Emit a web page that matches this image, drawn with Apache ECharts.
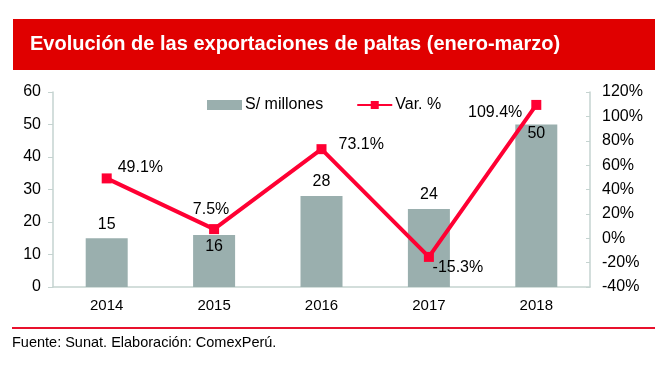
<!DOCTYPE html>
<html><head><meta charset="utf-8">
<script src="https://cdn.jsdelivr.net/npm/echarts@6/dist/echarts.min.js"></script>
<style>html,body{margin:0;padding:0;background:#fff}#c{width:668px;height:367px}</style>
</head><body><div id="c"></div>
<script>
var categories = ['2014','2015','2016','2017','2018'];
var exportValues = [15, 16, 28, 24, 50];
var varPct = [49.1, 7.5, 73.1, -15.3, 109.4];
var leftTicks = [0, 60, 10];
var rightTicks = [-40, 120, 20];

var barLabelPos = ['top','insideTop','top','top','insideTop'];
var barLabelDist = [6, 4, 6, 6, 1];
var lineLabelPos = [
  {position:'right', offset:[1,-11]},
  {position:'top', offset:[-3,-2]},
  {position:'right', offset:[7,-5]},
  {position:'bottom', offset:[29,-7]},
  {position:'left', offset:[-4,8]}
];

var FONT = 'Liberation Sans, Arial, sans-serif';
var chart = echarts.init(document.getElementById('c'), null, {renderer:'canvas'});
chart.setOption({
  animation:false,
  textStyle:{fontFamily:FONT},
  graphic:[
    {type:'rect', shape:{x:13,y:19,width:642,height:51}, style:{fill:'#E00000'}},
    {type:'text', left:30, top:34, style:{text:'Evolución de las exportaciones de paltas (enero-marzo)', fill:'#fff', font:'bold 20px '+FONT}},
    {type:'rect', shape:{x:12,y:327,width:643,height:2}, style:{fill:'#E8112D'}},
    {type:'text', left:12, top:335, style:{text:'Fuente: Sunat. Elaboración: ComexPerú.', fill:'#000', font:'14.5px '+FONT}}
  ],
  legend:{
    top:92, left:202, itemGap:33, itemWidth:35, itemHeight:10,
    textStyle:{fontSize:16, color:'#000', fontFamily:FONT, padding:[0,0,0,-2]},
    data:[{name:'S/ millones', icon:'rect'}, {name:'Var. %'}]
  },
  grid:{left:53, right:78, top:92, bottom:80},
  xAxis:{
    type:'category', data:categories,
    axisLine:{lineStyle:{color:'#C5D3D0', width:1.5}},
    axisTick:{show:false},
    axisLabel:{color:'#000', fontSize:15, margin:11, fontFamily:FONT}
  },
  yAxis:[
    {type:'value', min:leftTicks[0], max:leftTicks[1], interval:leftTicks[2],
     axisLine:{show:true, lineStyle:{color:'#C5D3D0', width:1.5}},
     axisTick:{show:true, length:5, lineStyle:{color:'#C5D3D0'}},
     splitLine:{show:false},
     axisLabel:{color:'#000', fontSize:16, margin:12, fontFamily:FONT}},
    {type:'value', min:rightTicks[0], max:rightTicks[1], interval:rightTicks[2], position:'right',
     axisLine:{show:true, lineStyle:{color:'#C5D3D0', width:1.5}},
     axisTick:{show:true, inside:true, length:4, lineStyle:{color:'#C5D3D0'}},
     splitLine:{show:false},
     axisLabel:{color:'#000', fontSize:16, margin:12, formatter:'{value}%', fontFamily:FONT}}
  ],
  series:[
    {name:'S/ millones', type:'bar', yAxisIndex:0, barWidth:42,
     itemStyle:{color:'#9AAFAE'},
     data:exportValues.map(function(v,i){return {value:v, label:{show:true, position:barLabelPos[i], distance:barLabelDist[i], color:'#000', fontSize:16, fontFamily:FONT}};})},
    {name:'Var. %', type:'line', yAxisIndex:1,
     lineStyle:{color:'#FF0033', width:4},
     itemStyle:{color:'#FF0033'},
     symbol:'rect', symbolSize:10,
     data:varPct.map(function(v,i){return {value:v, label:{show:true, position:lineLabelPos[i].position, offset:lineLabelPos[i].offset, color:'#000', fontSize:16, fontFamily:FONT, formatter:function(p){return p.value.toFixed(1)+'%';}}};})}
  ]
});
</script></body></html>
